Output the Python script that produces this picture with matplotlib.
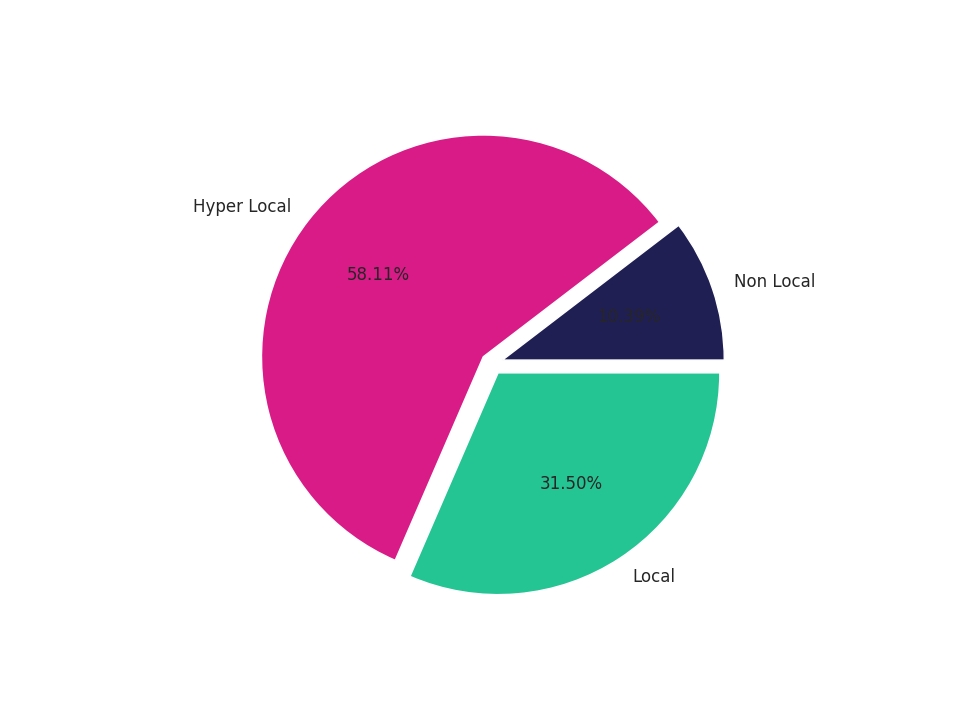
import matplotlib
matplotlib.use("Agg")
import matplotlib.pyplot as plt
import seaborn as sns

labels = ["Non Local", "Hyper Local", "Local"]
shares = [10.39, 58.11, 31.50]
colors = ["#1f1f54", "#d81b87", "#25c493"]
explode = [0.05, 0.05, 0.05]

sns.set_theme()

fig, ax = plt.subplots(figsize=(9.6, 7.2), dpi=100)
wedges, texts, autotexts = ax.pie(shares, labels=labels, colors=colors,
                                  explode=explode, autopct="%.2f%%",
                                  startangle=0)
# category labels a bit bigger than xtick size
for t in texts:
    t.set_fontsize(12)
plt.savefig("out.png")
